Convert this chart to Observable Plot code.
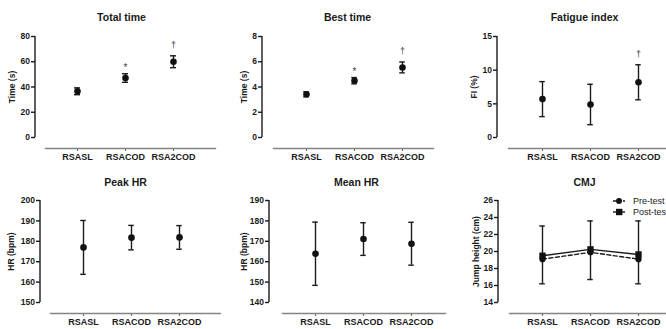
<!DOCTYPE html>
<html><head><meta charset="utf-8">
<script src="https://cdn.jsdelivr.net/npm/d3@7"></script>
<script src="https://cdn.jsdelivr.net/npm/@observablehq/plot@0.6"></script>
<style>
html,body{margin:0;padding:0;background:#fff;overflow:hidden;}
#chart{position:relative;width:666px;height:329px;overflow:hidden;background:#fff;font-family:"Liberation Sans",Arial,sans-serif;}
#chart svg{position:absolute;}
</style></head><body><div id="chart"></div>
<script>
// ---- data ----
const categories = ["RSASL", "RSACOD", "RSA2COD"];

const totalMean = [36.6, 47.1, 60.0];
const totalSD = [2.7, 3.4, 4.7];
const totalSig = ["", "*", "†"];
const totalTicks = [0, 20, 40, 60, 80];

const bestMean = [3.42, 4.5, 5.55];
const bestSD = [0.2, 0.25, 0.43];
const bestSig = ["", "*", "†"];
const bestTicks = [0, 2, 4, 6, 8];

const fatigueMean = [5.7, 4.9, 8.2];
const fatigueSD = [2.6, 3.0, 2.6];
const fatigueSig = ["", "", "†"];
const fatigueTicks = [0, 5, 10, 15];

const peakMean = [177.0, 181.8, 181.9];
const peakSD = [13.2, 6.0, 5.8];
const peakTicks = [150, 160, 170, 180, 190, 200];

const meanHRMean = [163.9, 171.1, 168.8];
const meanHRSD = [15.5, 8.0, 10.5];
const meanHRTicks = [140, 150, 160, 170, 180, 190];

const cmjPre = [19.1, 19.9, 19.1];
const cmjPreSD = [2.9, 3.2, 2.9];
const cmjPost = [19.5, 20.25, 19.65];
const cmjPostSD = [3.5, 3.35, 3.95];
const cmjTicks = [14, 16, 18, 20, 22, 24, 26];
const cmjSeries = ["Pre-test", "Post-test"];

// ---- layout (global pixel coordinates) ----
const FONT = "Liberation Sans, Arial, sans-serif";
const INK = "#1a1a1a";
const top1 = {top: 0, height: 165, yTop: 36, yBottom: 137, lineY: 148};
const top2 = {top: 165, height: 164, yTop: 35, yBottom: 137, lineY: 148};

const panels = [
  {row: top1, left: 0, width: 222, axisX: 35, line: [45, 215], cats: [77, 173], titleX: 121, labelX: 12,
   title: "Total time", ylabel: "Time (s)", mean: totalMean, sd: totalSD, sig: totalSig, ticks: totalTicks},
  {row: top1, left: 222, width: 224, axisX: 262, line: [273, 433], cats: [305, 402], titleX: 347, labelX: 244,
   title: "Best time", ylabel: "Time (s)", mean: bestMean, sd: bestSD, sig: bestSig, ticks: bestTicks},
  {row: top1, left: 444, width: 222, axisX: 497, line: [508, 666], cats: [541, 638], titleX: 584, labelX: 474,
   title: "Fatigue index", ylabel: "FI (%)", mean: fatigueMean, sd: fatigueSD, sig: fatigueSig, ticks: fatigueTicks},
  {row: top2, left: 0, width: 222, axisX: 40, line: [50, 220], cats: [82, 179], titleX: 125, labelX: 11,
   title: "Peak HR", ylabel: "HR (bpm)", mean: peakMean, sd: peakSD, ticks: peakTicks},
  {row: top2, left: 222, width: 224, axisX: 269, line: [282, 445], cats: [314, 411], titleX: 356, labelX: 244,
   title: "Mean HR", ylabel: "HR (bpm)", mean: meanHRMean, sd: meanHRSD, ticks: meanHRTicks},
  {row: top2, left: 444, width: 222, axisX: 498, line: [509, 666], cats: [541, 638], titleX: 584, labelX: 476,
   title: "CMJ", ylabel: "Jump height (cm)", cmj: true, ticks: cmjTicks}
];

const chart = document.getElementById("chart");

function yAxisLine(x, domain) {
  return (index, scales) => {
    const l = d3.create("svg:line")
      .attr("x1", x).attr("x2", x)
      .attr("y1", scales.y(domain[0])).attr("y2", scales.y(domain[1]))
      .attr("stroke", INK).attr("stroke-width", 1.4);
    return l.node();
  };
}

function caps(data, yKey, inset) {
  return Plot.tickY(data, {x: "cat", y: yKey, insetLeft: inset, insetRight: inset, stroke: INK, strokeWidth: 1.4});
}

for (const p of panels) {
  const r = p.row;
  const step = (p.cats[1] - p.cats[0]) / 2;
  const c0 = p.cats[0] - p.left, c2 = p.cats[1] - p.left;
  const marginLeft = p.line[0] - p.left;
  const marginRight = p.left + p.width - p.line[1];
  const marginTop = r.yTop;
  const marginBottom = r.height - r.lineY;
  const domain = [p.ticks[0], p.ticks[p.ticks.length - 1]];
  const axisXLocal = p.axisX - p.left;
  const inset = (step - 6) / 2;

  const marks = [
    Plot.frame({anchor: "bottom", stroke: "#858585", strokeWidth: 1.3}),
    Plot.axisX({anchor: "bottom", tickSize: 3, tickPadding: 2, stroke: "#777", strokeWidth: 1.2, fontSize: 9, fill: INK, label: null}),
    Plot.axisY(p.ticks, {anchor: "left", tickSize: 4, tickPadding: 1.5, dx: axisXLocal - marginLeft, stroke: INK, strokeWidth: 1.4, fill: INK, label: null}),
    yAxisLine(axisXLocal, domain),
    Plot.text([p.title], {text: d => d, frameAnchor: "top-left", dx: p.titleX - p.line[0], dy: 17 - marginTop,
      textAnchor: "middle", lineAnchor: "middle", fontSize: 10.5, fontWeight: "bold", fill: INK}),
    Plot.text([p.ylabel], {text: d => d, frameAnchor: "left", rotate: -90, dx: p.labelX - p.line[0],
      dy: (r.yTop + r.yBottom) / 2 - (marginTop + r.lineY) / 2, textAnchor: "middle", lineAnchor: "middle",
      fontSize: 8.5, fontWeight: "bold", fill: INK})
  ];

  if (!p.cmj) {
    const rows = categories.map((c, i) => ({cat: c, mean: p.mean[i], lo: p.mean[i] - p.sd[i], hi: p.mean[i] + p.sd[i], sig: p.sig ? p.sig[i] : ""}));
    marks.push(
      Plot.ruleX(rows, {x: "cat", y1: "lo", y2: "hi", stroke: INK, strokeWidth: 1.4}),
      caps(rows, "lo", inset),
      caps(rows, "hi", inset),
      Plot.dot(rows, {x: "cat", y: "mean", r: 3.3, fill: "#111", stroke: "none"}),
      Plot.text(rows.filter(d => d.sig === "*"), {x: "cat", y: "hi", text: "sig", dy: -5.5, fontSize: 10, fontWeight: "normal", fill: "#444", lineAnchor: "middle"}),
      Plot.text(rows.filter(d => d.sig === "†"), {x: "cat", y: "hi", text: "sig", dy: -11, fontSize: 9, fontWeight: "normal", fill: "#333", lineAnchor: "middle"})
    );
  } else {
    const rows = categories.map((c, i) => ({cat: c, pre: cmjPre[i], preLo: cmjPre[i] - cmjPreSD[i], post: cmjPost[i], postHi: cmjPost[i] + cmjPostSD[i]}));
    marks.push(
      Plot.ruleX(rows, {x: "cat", y1: "preLo", y2: "pre", stroke: INK, strokeWidth: 1.4}),
      Plot.ruleX(rows, {x: "cat", y1: "post", y2: "postHi", stroke: INK, strokeWidth: 1.4}),
      caps(rows, "preLo", inset),
      caps(rows, "postHi", inset),
      Plot.line(rows, {x: "cat", y: "pre", stroke: INK, strokeWidth: 1.4, strokeDasharray: "4,2.5"}),
      Plot.line(rows, {x: "cat", y: "post", stroke: INK, strokeWidth: 1.4}),
      Plot.dot(rows, {x: "cat", y: "pre", r: 3.1, fill: "#111", stroke: "none"}),
      Plot.dot(rows, {x: "cat", y: "post", r: 3.6, symbol: "square", fill: "#111", stroke: "none"})
    );
  }

  const svg = Plot.plot({
    width: p.width,
    height: r.height,
    marginLeft, marginRight, marginTop, marginBottom,
    style: {background: "transparent", fontFamily: FONT, fontSize: "8.5px", fontWeight: "bold", color: INK, overflow: "visible"},
    x: {type: "band", domain: categories, range: [c0 - step / 2, c2 + step / 2], padding: 0},
    y: {domain, range: [r.yBottom, r.yTop]},
    marks
  });
  svg.style.left = p.left + "px";
  svg.style.top = r.top + "px";
  chart.appendChild(svg);
}

// ---- legend for CMJ ----
const leg = d3.create("svg").attr("width", 66).attr("height", 30)
  .style("left", "600px").style("top", "190px").style("overflow", "visible");
cmjSeries.forEach((name, i) => {
  const y = 11 + i * 11;
  const g = leg.append("g");
  g.append("line").attr("x1", 13).attr("x2", 25).attr("y1", y).attr("y2", y)
    .attr("stroke", INK).attr("stroke-width", 1.4)
    .attr("stroke-dasharray", i === 0 ? "3,2" : null);
  if (i === 0) g.append("circle").attr("cx", 19).attr("cy", y).attr("r", 3).attr("fill", "#111");
  else g.append("rect").attr("x", 16).attr("y", y - 3.2).attr("width", 6.4).attr("height", 6.4).attr("fill", "#111");
  g.append("text").attr("x", 33).attr("y", y).attr("dy", "0.35em")
    .attr("font-family", FONT).attr("font-size", 9).attr("fill", INK).text(name);
});
chart.appendChild(leg.node());
</script></body></html>
